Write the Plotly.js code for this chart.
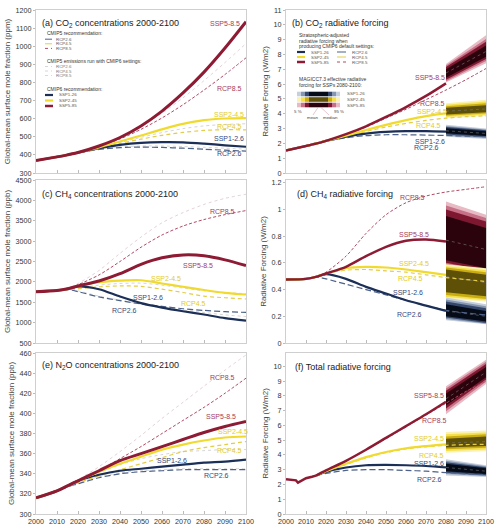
<!DOCTYPE html>
<html><head><meta charset="utf-8">
<script src="https://cdn.plot.ly/plotly-3.0.1.min.js"></script>
<style>html,body{margin:0;padding:0;background:#fff}#chart{width:500px;height:531px}</style>
</head><body><div id="chart"></div>
<script>
// ---------- DATA ----------
const years = [2000,2010,2015,2020,2030,2040,2050,2060,2070,2080,2090,2100];
const yearsTo2080 = [2000,2010,2015,2020,2030,2040,2050,2060,2070,2080];
const bandYears = [2080,2100];
const histYearsF = [2000,2003,2005,2006,2007,2008,2010,2013,2015];
const histF = [2.35,2.33,2.28,2.12,2.2,2.3,2.42,2.52,2.6];
const scenYearsF = [2015,2020,2030,2040,2050,2060,2070,2080];
const rcpYearsF = [2015,2020,2030,2040,2050,2060,2070,2080,2090,2100];

// (a) CO2 concentrations (ppm)
const co2_ssp126 = [369,389,400,413,437,455,466,470,469,462,453,445];
const co2_ssp245 = [369,389,400,413,441,474,507,541,571,592,601,603];
const co2_ssp585 = [369,389,400,413,449,496,560,642,742,857,990,1135];
const co2_rcp26 = [369,389,400,412,430,440,443,441,437,431,426,421];
const co2_rcp45 = [369,389,400,412,435,463,487,508,524,535,539,538];
const co2_rcp85 = [369,389,400,412,446,488,541,604,677,758,844,936];
const co2_rcp26_c6 = [369,389,400,412,432,444,449,449,446,442,437,432];
const co2_rcp45_c6 = [369,389,400,412,437,468,497,523,545,560,568,572];
const co2_rcp85_c6 = [369,389,400,412,449,497,557,630,715,810,910,1015];

// (b) CO2 radiative forcing (W/m2)
const co2rf_ssp126 = [1.52,1.82,1.98,2.17,2.46,2.66,2.77,2.82,2.82,2.79];
const co2rf_ssp245 = [1.52,1.82,1.98,2.17,2.52,2.9,3.25,3.57,3.84,4.02];
const co2rf_ssp585 = [1.52,1.82,1.98,2.17,2.62,3.15,3.78,4.45,5.2,6.05];
const co2rf_rcp26 = [1.52,1.82,1.98,2.15,2.38,2.52,2.58,2.58,2.56,2.53,2.49,2.45];
const co2rf_rcp45 = [1.52,1.82,1.98,2.15,2.45,2.8,3.1,3.35,3.55,3.7,3.8,3.86];
const co2rf_rcp85 = [1.52,1.82,1.98,2.15,2.6,3.1,3.7,4.3,4.95,5.6,6.3,7.05];
// percentiles 5,10,17,33,50,67,83,90,95 at 2080 and 2100
const bandB_ssp126_2080 = [2.45,2.52,2.6,2.68,2.85,3.02,3.1,3.17,3.25];
const bandB_ssp126_2100 = [2.3,2.36,2.43,2.5,2.67,2.82,2.88,2.94,3.0];
const bandB_ssp245_2080 = [3.7,3.78,3.86,3.95,4.17,4.4,4.5,4.6,4.7];
const bandB_ssp245_2100 = [3.85,3.93,4.02,4.1,4.32,4.58,4.7,4.82,4.95];
const bandB_ssp585_2080 = [6.1,6.2,6.3,6.42,6.75,7.0,7.15,7.25,7.35];
const bandB_ssp585_2100 = [7.4,7.55,7.7,7.85,8.2,8.6,8.85,9.05,9.3];

// (c) CH4 concentrations (ppb)
const ch4_ssp126 = [1760,1790,1830,1890,1820,1640,1480,1370,1280,1200,1110,1050];
const ch4_ssp245 = [1760,1790,1830,1900,1990,2030,2040,1960,1880,1800,1730,1690];
const ch4_ssp585 = [1760,1790,1830,1900,2020,2200,2430,2590,2660,2640,2540,2400];
const ch4_rcp26 = [1760,1790,1810,1760,1630,1540,1460,1400,1340,1300,1270,1250];
const ch4_rcp45 = [1760,1790,1810,1830,1880,1900,1890,1820,1740,1650,1610,1580];
const ch4_rcp85 = [1760,1790,1830,1930,2170,2500,2850,3150,3370,3530,3650,3750];
const ch4_rcp26_c6 = [1760,1790,1810,1780,1650,1550,1460,1380,1310,1250,1190,1150];
const ch4_rcp45_c6 = [1760,1790,1810,1840,1920,1960,1970,1920,1850,1780,1740,1710];
const ch4_rcp85_c6 = [1760,1790,1840,1960,2280,2700,3100,3450,3700,3900,4050,4150];

// (d) CH4 radiative forcing (W/m2)
const ch4rf_ssp126 = [0.475,0.48,0.495,0.515,0.48,0.42,0.37,0.32,0.28,0.24];
const ch4rf_ssp245 = [0.475,0.48,0.495,0.52,0.56,0.57,0.565,0.55,0.53,0.51];
const ch4rf_ssp585 = [0.475,0.48,0.495,0.52,0.57,0.65,0.72,0.765,0.775,0.76];
const ch4rf_rcp26 = [0.475,0.48,0.495,0.48,0.44,0.40,0.36,0.32,0.28,0.245,0.225,0.21];
const ch4rf_rcp45 = [0.475,0.48,0.495,0.52,0.545,0.55,0.54,0.53,0.51,0.49,0.475,0.46];
const ch4rf_rcp85 = [0.475,0.48,0.495,0.53,0.65,0.82,0.96,1.05,1.10,1.13,1.15,1.17];
const bandD_ssp126_2080 = [0.17,0.18,0.19,0.20,0.24,0.29,0.31,0.325,0.34];
const bandD_ssp126_2100 = [0.14,0.145,0.15,0.16,0.20,0.24,0.26,0.275,0.29];
const bandD_ssp245_2080 = [0.33,0.345,0.36,0.38,0.50,0.55,0.565,0.575,0.59];
const bandD_ssp245_2100 = [0.31,0.32,0.33,0.35,0.45,0.51,0.53,0.545,0.56];
const bandD_ssp585_2080 = [0.56,0.58,0.6,0.62,0.77,0.95,1.0,1.03,1.06];
const bandD_ssp585_2100 = [0.50,0.52,0.54,0.56,0.70,0.86,0.91,0.935,0.96];

// (e) N2O concentrations (ppb)
const n2o_ssp126 = [316,323,328,333,339,343,345,347,349,351,352,354];
const n2o_ssp245 = [316,323,328,333,342,350,357,364,369,373,376,377];
const n2o_ssp585 = [316,323,328,333,343,353,360,367,374,381,387,392];
const n2o_rcp26 = [316,323,327,330,336,340,342,343,344,344,344,344];
const n2o_rcp45 = [316,323,327,331,338,344,350,356,362,366,369,372];
const n2o_rcp85 = [316,323,327,332,343,355,367,380,393,406,420,435];
const n2o_rcp26_c6 = [316,323,327,331,337,341,343,344,345,345,345,345];
const n2o_rcp45_c6 = [316,323,327,332,341,349,355,359,362,363,364,364];
const n2o_rcp85_c6 = [316,323,328,334,347,362,378,395,411,427,443,458];

// (f) Total radiative forcing (W/m2)
const totrf_ssp126 = [2.6,2.85,3.15,3.3,3.32,3.3,3.25,3.15];
const totrf_ssp245 = [2.6,2.9,3.4,3.85,4.2,4.45,4.6,4.72];
const totrf_ssp585 = [2.6,2.95,3.6,4.35,5.15,5.95,6.75,7.6];
const totrf_rcp26 = [2.6,2.75,2.95,3.0,3.0,2.95,2.9,2.8,2.72,2.65];
const totrf_rcp45 = [2.6,2.85,3.35,3.8,4.15,4.4,4.55,4.65,4.7,4.72];
const totrf_rcp85 = [2.6,2.95,3.6,4.35,5.1,5.9,6.7,7.5,8.3,9.0];
const bandF_ssp126_2080 = [2.6,2.7,2.8,2.9,3.15,3.4,3.5,3.6,3.7];
const bandF_ssp126_2100 = [2.5,2.57,2.63,2.7,2.9,3.1,3.17,3.23,3.3];
const bandF_ssp245_2080 = [4.15,4.27,4.39,4.5,4.8,5.1,5.25,5.4,5.55];
const bandF_ssp245_2100 = [4.25,4.37,4.49,4.6,4.9,5.25,5.4,5.52,5.65];
const bandF_ssp585_2080 = [6.75,6.95,7.15,7.35,7.8,8.15,8.35,8.5,8.65];
const bandF_ssp585_2100 = [8.8,8.95,9.1,9.25,9.6,9.95,10.15,10.3,10.45];

// ---------- STYLE ----------
const FONT = 'Liberation Sans, Arial, sans-serif';
const C = {
  ssp126:'#1c2f57', ssp245:'#f1da2e', ssp585:'#8e1b34',
  rcp26:'#4c6288', rcp45:'#e3cd48', rcp85:'#b24a64',
  c6a:'#d6d6d6', c6b:'#e4d2d7',
  l126:'#34497a', l245:'#e2cb2a', l585:'#a63c57'
};
const BAND = {
  ssp126:['#c6cfdc','#8796b0','#34476b','#060b18'],
  ssp245:['#fbf1b0','#f4df4c','#c9ac12','#5e5006'],
  ssp585:['#e7bac4','#c67187','#7e1830','#2a030c']
};

const traces = [];
function line(xa, ya, ax, color, width, dash){
  traces.push({x:xa, y:ya, xaxis:'x'+ax, yaxis:'y'+ax, type:'scatter', mode:'lines',
    line:{color:color, width:width, dash:dash||'solid', shape:'spline', smoothing:0.8},
    hoverinfo:'skip', showlegend:false});
}
function band(ax, p80, p00, key){
  const cols = BAND[key];
  for(let i=0;i<4;i++){
    traces.push({x:bandYears, y:[p80[i],p00[i]], xaxis:'x'+ax, yaxis:'y'+ax, type:'scatter', mode:'lines',
      line:{width:0, color:'rgba(0,0,0,0)'}, hoverinfo:'skip', showlegend:false});
    traces.push({x:bandYears, y:[p80[8-i],p00[8-i]], xaxis:'x'+ax, yaxis:'y'+ax, type:'scatter', mode:'lines',
      line:{width:0, color:'rgba(0,0,0,0)'}, fill:'tonexty', fillcolor:cols[i], hoverinfo:'skip', showlegend:false});
  }
  traces.push({x:bandYears, y:[p80[4],p00[4]], xaxis:'x'+ax, yaxis:'y'+ax, type:'scatter', mode:'lines',
    line:{width:1, color:'rgba(120,120,120,0.6)', dash:'dot'}, hoverinfo:'skip', showlegend:false});
}

// (a)
line(years, co2_rcp26_c6, '', C.c6a, 1, 'dot');
line(years, co2_rcp45_c6, '', C.c6a, 1, 'dot');
line(years, co2_rcp85_c6, '', C.c6b, 1, 'dot');
line(years, co2_rcp26, '', C.rcp26, 1.2, '6px,3px');
line(years, co2_rcp45, '', C.rcp45, 1.2, '4px,3px');
line(years, co2_rcp85, '', C.rcp85, 1, '3px,2px');
line(years, co2_ssp126, '', C.ssp126, 2.2);
line(years, co2_ssp245, '', C.ssp245, 2.2);
line(years, co2_ssp585, '', C.ssp585, 3);
// (b)
band('2', bandB_ssp585_2080, bandB_ssp585_2100, 'ssp585');
band('2', bandB_ssp245_2080, bandB_ssp245_2100, 'ssp245');
band('2', bandB_ssp126_2080, bandB_ssp126_2100, 'ssp126');
line(years, co2rf_rcp26, '2', C.rcp26, 1.2, '6px,3px');
line(years, co2rf_rcp45, '2', C.rcp45, 1.2, '4px,3px');
line(years, co2rf_rcp85, '2', C.rcp85, 1, '3px,2px');
line(yearsTo2080, co2rf_ssp126, '2', C.ssp126, 2.2);
line(yearsTo2080, co2rf_ssp245, '2', C.ssp245, 2.2);
line(yearsTo2080, co2rf_ssp585, '2', C.ssp585, 2.5);
// (c)
line(years, ch4_rcp26_c6, '3', C.c6a, 1, 'dot');
line(years, ch4_rcp45_c6, '3', C.c6a, 1, 'dot');
line(years, ch4_rcp85_c6, '3', C.c6b, 1, 'dot');
line(years, ch4_rcp26, '3', C.rcp26, 1.2, '6px,3px');
line(years, ch4_rcp45, '3', C.rcp45, 1.2, '4px,3px');
line(years, ch4_rcp85, '3', C.rcp85, 1, '3px,2px');
line(years, ch4_ssp126, '3', C.ssp126, 2.2);
line(years, ch4_ssp245, '3', C.ssp245, 2.2);
line(years, ch4_ssp585, '3', C.ssp585, 3);
// (d)
band('4', bandD_ssp585_2080, bandD_ssp585_2100, 'ssp585');
band('4', bandD_ssp245_2080, bandD_ssp245_2100, 'ssp245');
band('4', bandD_ssp126_2080, bandD_ssp126_2100, 'ssp126');
line(years, ch4rf_rcp26, '4', C.rcp26, 1.2, '6px,3px');
line(years, ch4rf_rcp45, '4', C.rcp45, 1.2, '4px,3px');
line(years, ch4rf_rcp85, '4', C.rcp85, 1, '3px,2px');
line(yearsTo2080, ch4rf_ssp126, '4', C.ssp126, 2.2);
line(yearsTo2080, ch4rf_ssp245, '4', C.ssp245, 2.2);
line(yearsTo2080, ch4rf_ssp585, '4', C.ssp585, 2.5);
// (e)
line(years, n2o_rcp26_c6, '5', C.c6a, 1, 'dot');
line(years, n2o_rcp45_c6, '5', C.c6a, 1, 'dot');
line(years, n2o_rcp85_c6, '5', C.c6b, 1, 'dot');
line(years, n2o_rcp26, '5', C.rcp26, 1.2, '6px,3px');
line(years, n2o_rcp45, '5', C.rcp45, 1.2, '4px,3px');
line(years, n2o_rcp85, '5', C.rcp85, 1, '3px,2px');
line(years, n2o_ssp126, '5', C.ssp126, 2.2);
line(years, n2o_ssp245, '5', C.ssp245, 2.2);
line(years, n2o_ssp585, '5', C.ssp585, 3);
// (f)
band('6', bandF_ssp585_2080, bandF_ssp585_2100, 'ssp585');
band('6', bandF_ssp245_2080, bandF_ssp245_2100, 'ssp245');
band('6', bandF_ssp126_2080, bandF_ssp126_2100, 'ssp126');
line(rcpYearsF, totrf_rcp26, '6', C.rcp26, 1.2, '6px,3px');
line(rcpYearsF, totrf_rcp45, '6', C.rcp45, 1.2, '4px,3px');
line(rcpYearsF, totrf_rcp85, '6', C.rcp85, 1, '3px,2px');
line(scenYearsF, totrf_ssp126, '6', C.ssp126, 2.2);
line(scenYearsF, totrf_ssp245, '6', C.ssp245, 2.2);
line(scenYearsF, totrf_ssp585, '6', C.ssp585, 2.5);
traces.push({x:histYearsF, y:histF, xaxis:'x6', yaxis:'y6', type:'scatter', mode:'lines',
  line:{color:C.ssp585, width:2.5}, hoverinfo:'skip', showlegend:false});

// ---------- LAYOUT ----------
const W=500, H=531;
const px = v => v/W, py = v => 1 - v/H;
const colL=[px(36),px(246)], colR=[px(286),px(486)];
const rowT=[py(173),py(10)], rowM=[py(343),py(180)], rowB=[py(514),py(353)];

function xax(dom, anchor, labels){
  return {domain:dom, anchor:anchor, range:[2000,2100], dtick:10, tick0:2000,
    showticklabels:labels, ticks:'inside', ticklen:3, tickcolor:'#bbb', tickwidth:1,
    showline:true, mirror:true, linecolor:'#cfcfcf', linewidth:1, showgrid:false, zeroline:false,
    tickfont:{family:FONT,size:7.2,color:'#333'}};
}
function yax(dom, anchor, range, dtick, title, tickvals){
  const o = {domain:dom, anchor:anchor, range:range, dtick:dtick,
    ticks:'outside', ticklen:2, tickcolor:'#bbb', tickwidth:1,
    showline:true, mirror:true, linecolor:'#cfcfcf', linewidth:1, showgrid:false, zeroline:false,
    tickfont:{family:FONT,size:7.2,color:'#333'},
    title:{text:title, font:{family:FONT,size:8,color:'#444'}, standoff:3}};
  if(tickvals){o.tickvals=tickvals; o.tickmode='array';}
  return o;
}
const ppmT='Global-mean surface mole fraction (ppm)', ppbT='Global-mean surface mole fraction (ppb)', rfT='Radiative Forcing (W/m2)';

const ann = [];
function lab(ax, x, y, text, color){
  ann.push({xref:'x'+ax, yref:'y'+ax, x:x, y:y, text:text, showarrow:false,
    font:{family:FONT,size:7,color:color}, xanchor:'center', yanchor:'middle'});
}
function ptitle(ax, x, y, text){
  ann.push({xref:'x'+ax+' domain', yref:'y'+ax+' domain', x:x, y:y, text:text, showarrow:false,
    font:{family:FONT,size:9,color:'#222'}, xanchor:'left', yanchor:'middle'});
}
function ptext(x, y, text, size, color, anchor){
  ann.push({xref:'paper', yref:'paper', x:px(x), y:py(y), text:text, showarrow:false,
    font:{family:FONT,size:size||5,color:color||'#333'}, xanchor:anchor||'left', yanchor:'middle'});
}
ptitle('', 0.02, 0.92, '(a) CO<sub>2</sub> concentrations 2000-2100');
ptitle('2', 0.02, 0.92, '(b) CO<sub>2</sub> radiative forcing');
ptitle('3', 0.02, 0.908, '(c) CH<sub>4</sub> concentrations 2000-2100');
ptitle('4', 0.045, 0.908, '(d) CH<sub>4</sub> radiative forcing');
ptitle('5', 0.02, 0.92, '(e) N<sub>2</sub>O concentrations 2000-2100');
ptitle('6', 0.035, 0.913, '(f) Total radiative forcing');

// curve labels
lab('', 2090, 1123, 'SSP5-8.5', C.l585); lab('', 2092, 768, 'RCP8.5', C.l585);
lab('', 2092, 621, 'SSP2-4.5', C.l245); lab('', 2092, 557, 'RCP4.5', C.l245);
lab('', 2092, 493, 'SSP1-2.6', C.l126); lab('', 2092, 410, 'RCP2.6', C.l126);
lab('2', 2072, 6.45, 'SSP5-8.5', C.l585); lab('2', 2073, 4.68, 'RCP8.5', C.l585);
lab('2', 2073, 4.18, 'SSP2-4.5', C.l245); lab('2', 2071, 3.19, 'RCP4.5', C.l245);
lab('2', 2072, 2.13, 'SSP1-2.6', C.l126); lab('2', 2070, 1.69, 'RCP2.6', C.l126);
lab('3', 2089, 3724, 'RCP8.5', C.l585); lab('3', 2077, 2402, 'SSP5-8.5', C.l585);
lab('3', 2062, 2090, 'SSP2-4.5', C.l245); lab('3', 2053.5, 1610, 'SSP1-2.6', C.l126);
lab('3', 2075, 1480, 'RCP4.5', C.l245); lab('3', 2042, 1300, 'RCP2.6', C.l126);
lab('4', 2063, 1.09, 'RCP8.5', C.l585); lab('4', 2064, 0.81, 'SSP5-8.5', C.l585);
lab('4', 2064, 0.595, 'SSP2-4.5', C.l245); lab('4', 2062, 0.48, 'RCP4.5', C.l245);
lab('4', 2061, 0.378, 'SSP1-2.6', C.l126); lab('4', 2061.5, 0.21, 'RCP2.6', C.l126);
lab('5', 2088.7, 436, 'RCP8.5', C.l585); lab('5', 2088, 397, 'SSP5-8.5', C.l585);
lab('5', 2093.7, 382, 'SSP2-4.5', C.l245); lab('5', 2092, 363, 'RCP4.5', C.l245);
lab('5', 2064.6, 353, 'SSP1-2.6', C.l126); lab('5', 2086, 338, 'RCP2.6', C.l126);
lab('6', 2071.7, 8.0, 'SSP5-8.5', C.l585); lab('6', 2074, 6.3, 'RCP8.5', C.l585);
lab('6', 2071.7, 5.12, 'SSP2-4.5', C.l245); lab('6', 2072.5, 3.98, 'RCP4.5', C.l245);
lab('6', 2071.7, 3.45, 'SSP1-2.6', C.l126); lab('6', 2071.7, 2.36, 'RCP2.6', C.l126);

// legends
const shapes = [];
function sline(x0,x1,y,color,width,dash){
  shapes.push({type:'line', xref:'paper', yref:'paper', x0:px(x0), x1:px(x1), y0:py(y), y1:py(y),
    line:{color:color, width:width, dash:dash||'solid'}});
}
function srect(x0,x1,y0,y1,color){
  shapes.push({type:'rect', xref:'paper', yref:'paper', x0:px(x0), x1:px(x1), y0:py(y0), y1:py(y1),
    line:{width:0}, fillcolor:color});
}
const HS=5, IS=4.4;
ptext(45, 33.5, 'CMIP5 recommendation:', HS, '#333');
sline(45,52,39.2,C.rcp26,1,'solid'); ptext(54,39.2,'RCP2.6',IS,'#555');
sline(45,52,43.8,C.rcp45,1,'dash'); ptext(54,43.8,'RCP4.5',IS,'#555');
sline(45,52,48.4,C.rcp85,1,'dot'); ptext(54,48.4,'RCP8.5',IS,'#555');
ptext(45, 61, 'CMIP5 emissions run with CMIP6 settings:', HS, '#333');
sline(45,52,66.5,C.c6a,1,'dot'); ptext(54,66.5,'RCP2.6',IS,'#777');
sline(45,52,71,C.c6a,1,'dot'); ptext(54,71,'RCP4.5',IS,'#777');
sline(45,52,75.5,C.c6b,1,'dot'); ptext(54,75.5,'RCP8.5',IS,'#777');
ptext(45, 89, 'CMIP6 recommendation:', HS, '#333');
sline(45,53,95,C.ssp126,2.2); ptext(57,95,'SSP1-26',IS,'#555');
sline(45,53,100.5,C.ssp245,2.2); ptext(57,100.5,'SSP2-45',IS,'#555');
sline(45,53,106,C.ssp585,2.5); ptext(57,106,'SSP5-85',IS,'#555');

ptext(297, 35, 'Stratospheric-adjusted', HS, '#333');
ptext(297, 40.5, 'radiative forcing when', HS, '#333');
ptext(297, 46, 'producing CMIP6 default settings:', HS, '#333');
sline(297,305,52,C.ssp126,2.2); ptext(309,52,'SSP1-26',IS,'#555');
sline(297,305,57,C.ssp245,2.2); ptext(309,57,'SSP2-45',IS,'#555');
sline(297,305,62,C.ssp585,2.5); ptext(309,62,'SSP5-85',IS,'#555');
sline(337,347,52,C.rcp26,1,'dashdot'); ptext(350,52,'RCP2.6',IS,'#555');
sline(337,347,57,C.rcp45,1,'dash'); ptext(350,57,'RCP4.5',IS,'#555');
sline(337,347,62,C.rcp85,1,'dot'); ptext(350,62,'RCP8.5',IS,'#555');
ptext(297, 79, 'MAGICC7.3 effective radiative', HS, '#333');
ptext(297, 84.5, 'forcing for SSPs 2080-2100:', HS, '#333');
const segs = [[297,301,0],[301,305,1],[305,309,2],[309,328,3],[328,332,2],[332,336,1],[336,340,0]];
[['ssp126',94,'SSP1-26'],['ssp245',99.5,'SSP2-45'],['ssp585',105,'SSP5-85']].forEach(r=>{
  segs.forEach(s=>srect(s[0],s[1],r[1]-2.3,r[1]+2.3,BAND[r[0]][s[2]]));
  ptext(345,r[1],r[2],IS,'#555');
});
ptext(298,112,'5 %',IS,'#444','center'); ptext(339,112,'95 %',IS,'#444','center');
ptext(313,117.5,'mean',IS,'#444','center'); ptext(330,117.5,'median',IS,'#444','center');
shapes.push({type:'line',xref:'paper',yref:'paper',x0:px(313),x1:px(318),y0:py(115),y1:py(107.5),line:{color:'#d7a0ad',width:0.6}});
shapes.push({type:'line',xref:'paper',yref:'paper',x0:px(329),x1:px(321),y0:py(115),y1:py(107.5),line:{color:'#d7a0ad',width:0.6}});

const layout = {
  width:W, height:H, margin:{l:0,r:0,t:0,b:0}, paper_bgcolor:'#fff', plot_bgcolor:'#fff',
  showlegend:false, font:{family:FONT},
  xaxis: xax(colL,'y',false),  yaxis: yax(rowT,'x',[300,1200],100,ppmT),
  xaxis2:xax(colR,'y2',false), yaxis2:yax(rowT,'x2',[0,11],1,rfT),
  xaxis3:xax(colL,'y3',false), yaxis3:yax(rowM,'x3',[500,4500],500,ppbT),
  xaxis4:xax(colR,'y4',false), yaxis4:yax(rowM,'x4',[0,1.22],0.2,rfT,[0,0.2,0.4,0.6,0.8,1,1.2]),
  xaxis5:xax(colL,'y5',true),  yaxis5:yax(rowB,'x5',[300,460],20,ppbT),
  xaxis6:xax(colR,'y6',true),  yaxis6:yax(rowB,'x6',[0,10.9],1,rfT,[0,1,2,3,4,5,6,7,8,9,10]),
  annotations:ann, shapes:shapes
};
Plotly.newPlot('chart', traces, layout, {staticPlot:true, displayModeBar:false});
</script></body></html>
